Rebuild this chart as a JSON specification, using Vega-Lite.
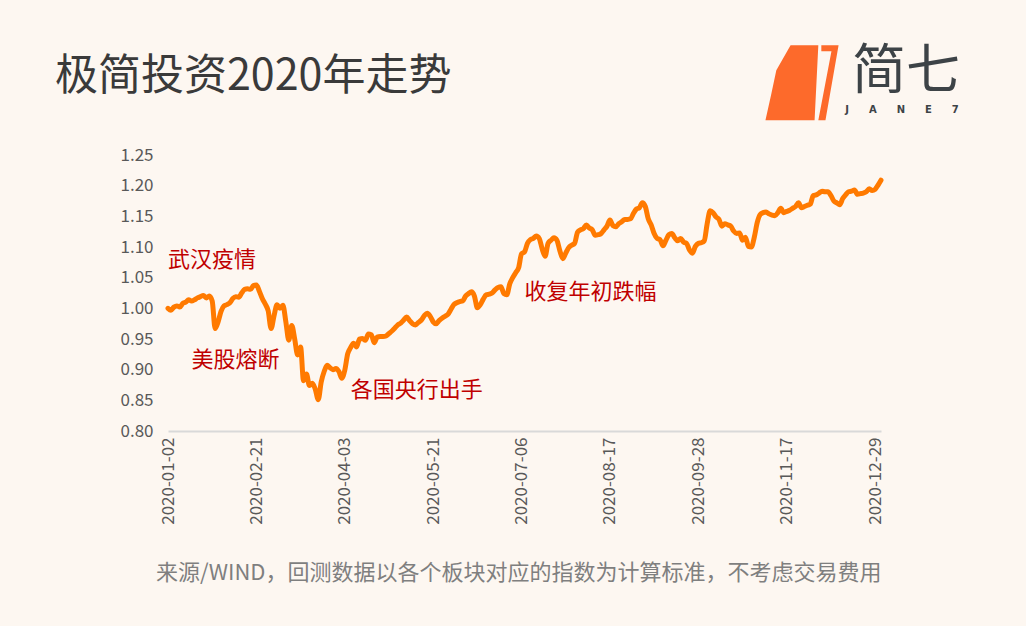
{
  "$schema": "https://vega.github.io/schema/vega-lite/v6.json",
  "width": 713,
  "height": 276,
  "autosize": {"type": "none"},
  "padding": {"left": 168, "top": 155, "right": 145, "bottom": 195},
  "background": "#fdf7f1",
  "config": {"view": {"stroke": null}, "font": "Noto Sans CJK SC"},
  "datasets": {
    "nav": [
      {"date":"2020-01-02","value":1.000},{"date":"2020-01-03","value":0.997},{"date":"2020-01-06","value":1.002},{"date":"2020-01-07","value":1.004},{"date":"2020-01-08","value":1.002},{"date":"2020-01-09","value":1.008},{"date":"2020-01-10","value":1.010},{"date":"2020-01-13","value":1.014},{"date":"2020-01-14","value":1.012},{"date":"2020-01-15","value":1.014},{"date":"2020-01-16","value":1.017},{"date":"2020-01-17","value":1.019},{"date":"2020-01-20","value":1.021},{"date":"2020-01-21","value":1.017},{"date":"2020-01-22","value":1.020},{"date":"2020-01-23","value":1.012},
      {"date":"2020-02-03","value":0.967},{"date":"2020-02-04","value":0.978},{"date":"2020-02-05","value":0.995},{"date":"2020-02-06","value":1.004},{"date":"2020-02-07","value":1.006},{"date":"2020-02-10","value":1.009},{"date":"2020-02-11","value":1.016},{"date":"2020-02-12","value":1.019},{"date":"2020-02-13","value":1.018},{"date":"2020-02-14","value":1.025},{"date":"2020-02-17","value":1.031},{"date":"2020-02-18","value":1.032},{"date":"2020-02-19","value":1.031},{"date":"2020-02-20","value":1.037},{"date":"2020-02-21","value":1.038},{"date":"2020-02-24","value":1.028},{"date":"2020-02-25","value":1.016},{"date":"2020-02-26","value":1.007},{"date":"2020-02-27","value":0.996},{"date":"2020-02-28","value":0.967},
      {"date":"2020-03-02","value":0.988},{"date":"2020-03-03","value":1.006},{"date":"2020-03-04","value":1.000},{"date":"2020-03-05","value":1.005},{"date":"2020-03-06","value":0.978},{"date":"2020-03-09","value":0.948},{"date":"2020-03-10","value":0.972},{"date":"2020-03-11","value":0.950},{"date":"2020-03-12","value":0.924},{"date":"2020-03-13","value":0.937},{"date":"2020-03-16","value":0.882},{"date":"2020-03-17","value":0.893},{"date":"2020-03-18","value":0.874},{"date":"2020-03-19","value":0.878},{"date":"2020-03-20","value":0.868},{"date":"2020-03-23","value":0.851},{"date":"2020-03-24","value":0.880},{"date":"2020-03-25","value":0.897},{"date":"2020-03-26","value":0.907},{"date":"2020-03-27","value":0.903},{"date":"2020-03-30","value":0.900},{"date":"2020-03-31","value":0.902},
      {"date":"2020-04-01","value":0.897},{"date":"2020-04-02","value":0.886},{"date":"2020-04-03","value":0.899},{"date":"2020-04-07","value":0.926},{"date":"2020-04-08","value":0.936},{"date":"2020-04-09","value":0.943},{"date":"2020-04-10","value":0.937},{"date":"2020-04-13","value":0.950},{"date":"2020-04-14","value":0.951},{"date":"2020-04-15","value":0.948},{"date":"2020-04-16","value":0.958},{"date":"2020-04-17","value":0.957},{"date":"2020-04-20","value":0.944},{"date":"2020-04-21","value":0.953},{"date":"2020-04-22","value":0.954},{"date":"2020-04-23","value":0.954},{"date":"2020-04-24","value":0.955},{"date":"2020-04-27","value":0.959},{"date":"2020-04-28","value":0.963},{"date":"2020-04-29","value":0.968},{"date":"2020-04-30","value":0.973},
      {"date":"2020-05-06","value":0.976},{"date":"2020-05-07","value":0.981},{"date":"2020-05-08","value":0.986},{"date":"2020-05-11","value":0.980},{"date":"2020-05-12","value":0.975},{"date":"2020-05-13","value":0.973},{"date":"2020-05-14","value":0.977},{"date":"2020-05-15","value":0.981},{"date":"2020-05-18","value":0.988},{"date":"2020-05-19","value":0.992},{"date":"2020-05-20","value":0.987},{"date":"2020-05-21","value":0.978},{"date":"2020-05-22","value":0.975},{"date":"2020-05-25","value":0.980},{"date":"2020-05-26","value":0.984},{"date":"2020-05-27","value":0.987},{"date":"2020-05-28","value":0.990},{"date":"2020-05-29","value":0.998},
      {"date":"2020-06-01","value":1.006},{"date":"2020-06-02","value":1.009},{"date":"2020-06-03","value":1.011},{"date":"2020-06-04","value":1.012},{"date":"2020-06-05","value":1.020},{"date":"2020-06-08","value":1.024},{"date":"2020-06-09","value":1.027},{"date":"2020-06-10","value":1.020},{"date":"2020-06-11","value":1.001},{"date":"2020-06-12","value":1.006},{"date":"2020-06-15","value":1.015},{"date":"2020-06-16","value":1.022},{"date":"2020-06-17","value":1.023},{"date":"2020-06-18","value":1.025},{"date":"2020-06-19","value":1.030},{"date":"2020-06-22","value":1.034},{"date":"2020-06-23","value":1.035},{"date":"2020-06-24","value":1.024},{"date":"2020-06-29","value":1.022},{"date":"2020-06-30","value":1.040},
      {"date":"2020-07-01","value":1.050},{"date":"2020-07-02","value":1.058},{"date":"2020-07-03","value":1.066},{"date":"2020-07-06","value":1.089},{"date":"2020-07-07","value":1.092},{"date":"2020-07-08","value":1.106},{"date":"2020-07-09","value":1.112},{"date":"2020-07-10","value":1.114},{"date":"2020-07-13","value":1.118},{"date":"2020-07-14","value":1.114},{"date":"2020-07-15","value":1.097},{"date":"2020-07-16","value":1.085},{"date":"2020-07-17","value":1.106},{"date":"2020-07-20","value":1.111},{"date":"2020-07-21","value":1.115},{"date":"2020-07-22","value":1.111},{"date":"2020-07-23","value":1.094},{"date":"2020-07-24","value":1.081},{"date":"2020-07-27","value":1.090},{"date":"2020-07-28","value":1.099},{"date":"2020-07-29","value":1.103},{"date":"2020-07-30","value":1.106},{"date":"2020-07-31","value":1.124},
      {"date":"2020-08-03","value":1.128},{"date":"2020-08-04","value":1.130},{"date":"2020-08-05","value":1.136},{"date":"2020-08-06","value":1.131},{"date":"2020-08-07","value":1.128},{"date":"2020-08-10","value":1.119},{"date":"2020-08-11","value":1.120},{"date":"2020-08-12","value":1.122},{"date":"2020-08-13","value":1.128},{"date":"2020-08-14","value":1.134},{"date":"2020-08-17","value":1.144},{"date":"2020-08-18","value":1.135},{"date":"2020-08-19","value":1.133},{"date":"2020-08-20","value":1.138},{"date":"2020-08-21","value":1.141},{"date":"2020-08-24","value":1.145},{"date":"2020-08-25","value":1.145},{"date":"2020-08-26","value":1.146},{"date":"2020-08-27","value":1.155},{"date":"2020-08-28","value":1.162},{"date":"2020-08-31","value":1.164},
      {"date":"2020-09-01","value":1.172},{"date":"2020-09-02","value":1.166},{"date":"2020-09-03","value":1.146},{"date":"2020-09-04","value":1.136},{"date":"2020-09-07","value":1.122},{"date":"2020-09-08","value":1.114},{"date":"2020-09-09","value":1.112},{"date":"2020-09-10","value":1.102},{"date":"2020-09-11","value":1.111},{"date":"2020-09-14","value":1.120},{"date":"2020-09-15","value":1.122},{"date":"2020-09-16","value":1.115},{"date":"2020-09-17","value":1.110},{"date":"2020-09-18","value":1.114},{"date":"2020-09-21","value":1.108},{"date":"2020-09-22","value":1.106},{"date":"2020-09-23","value":1.095},{"date":"2020-09-24","value":1.090},{"date":"2020-09-25","value":1.101},{"date":"2020-09-28","value":1.106},{"date":"2020-09-29","value":1.107},{"date":"2020-09-30","value":1.110},
      {"date":"2020-10-09","value":1.138},{"date":"2020-10-12","value":1.159},{"date":"2020-10-13","value":1.156},{"date":"2020-10-14","value":1.149},{"date":"2020-10-15","value":1.145},{"date":"2020-10-16","value":1.134},{"date":"2020-10-19","value":1.138},{"date":"2020-10-20","value":1.136},{"date":"2020-10-21","value":1.134},{"date":"2020-10-22","value":1.126},{"date":"2020-10-23","value":1.122},{"date":"2020-10-26","value":1.123},{"date":"2020-10-27","value":1.111},{"date":"2020-10-28","value":1.116},{"date":"2020-10-29","value":1.101},{"date":"2020-10-30","value":1.100},
      {"date":"2020-11-02","value":1.116},{"date":"2020-11-03","value":1.140},{"date":"2020-11-04","value":1.153},{"date":"2020-11-05","value":1.156},{"date":"2020-11-06","value":1.157},{"date":"2020-11-09","value":1.154},{"date":"2020-11-10","value":1.152},{"date":"2020-11-11","value":1.151},{"date":"2020-11-12","value":1.156},{"date":"2020-11-13","value":1.163},{"date":"2020-11-16","value":1.156},{"date":"2020-11-17","value":1.158},{"date":"2020-11-18","value":1.160},{"date":"2020-11-19","value":1.163},{"date":"2020-11-20","value":1.166},{"date":"2020-11-23","value":1.172},{"date":"2020-11-24","value":1.164},{"date":"2020-11-25","value":1.166},{"date":"2020-11-26","value":1.168},{"date":"2020-11-27","value":1.170},{"date":"2020-11-30","value":1.184},
      {"date":"2020-12-01","value":1.185},{"date":"2020-12-02","value":1.188},{"date":"2020-12-03","value":1.191},{"date":"2020-12-04","value":1.190},{"date":"2020-12-07","value":1.190},{"date":"2020-12-08","value":1.184},{"date":"2020-12-09","value":1.175},{"date":"2020-12-10","value":1.172},{"date":"2020-12-11","value":1.169},{"date":"2020-12-14","value":1.179},{"date":"2020-12-15","value":1.185},{"date":"2020-12-16","value":1.190},{"date":"2020-12-17","value":1.191},{"date":"2020-12-18","value":1.193},{"date":"2020-12-21","value":1.186},{"date":"2020-12-22","value":1.187},{"date":"2020-12-23","value":1.188},{"date":"2020-12-24","value":1.190},{"date":"2020-12-25","value":1.195},{"date":"2020-12-28","value":1.192},{"date":"2020-12-29","value":1.194},{"date":"2020-12-30","value":1.201},{"date":"2020-12-31","value":1.209}
    ],
    "notes": [
      {"date":"2020-01-02","value":1.079,"label":"武汉疫情"},
      {"date":"2020-01-14","value":0.916,"label":"美股熔断"},
      {"date":"2020-04-08","value":0.867,"label":"各国央行出手"},
      {"date":"2020-07-07","value":1.027,"label":"收复年初跌幅"}
    ]
  },
  "encoding": {
    "x": {
      "field": "date", "type": "ordinal",
      "scale": {"type": "point", "padding": 0},
      "axis": {
        "values": ["2020-01-02","2020-02-21","2020-04-03","2020-05-21","2020-07-06","2020-08-17","2020-09-28","2020-11-17","2020-12-29"],
        "labelAngle": -90, "ticks": false, "grid": false, "labelOverlap": false,
        "domainColor": "#d9d9d9", "domainWidth": 2,
        "labelColor": "#595959", "labelFontSize": 17, "labelPadding": 6, "labelFont": "Noto Sans CJK SC",
        "title": "来源/WIND，回测数据以各个板块对应的指数为计算标准，不考虑交易费用",
        "titleAnchor": "end", "titleFontSize": 22, "titleFontWeight": "normal", "titleColor": "#7f7f7f", "titleFont": "Noto Sans CJK SC", "titlePadding": 38
      }
    },
    "y": {
      "field": "value", "type": "quantitative",
      "scale": {"domain": [0.8, 1.25], "zero": false, "nice": false},
      "axis": {
        "values": [0.8,0.85,0.9,0.95,1.0,1.05,1.1,1.15,1.2,1.25], "tickCount": 10, "format": ".2f",
        "domain": false, "ticks": false, "grid": false, "labelOverlap": false,
        "labelColor": "#595959", "labelFontSize": 17, "labelPadding": 15, "labelFont": "Noto Sans CJK SC",
        "title": null
      }
    }
  },
  "layer": [
    {
      "data": {"name": "nav"},
      "mark": {"type": "line", "color": "#ff7a00", "strokeWidth": 5, "interpolate": "monotone", "strokeCap": "round", "strokeJoin": "round"}
    },
    {
      "data": {"name": "notes"},
      "mark": {"type": "text", "align": "left", "baseline": "middle", "fontSize": 22, "color": "#c00000", "font": "Noto Sans CJK SC"},
      "encoding": {"text": {"field": "label"}}
    },
    {
      "data": {"values": [{"date":"2020-01-02","value":1.377,"label":"极简投资2020年走势"}]},
      "mark": {"type": "text", "align": "left", "baseline": "middle", "fontSize": 43, "color": "#3a3a3a", "font": "Noto Sans CJK SC", "dx": -113},
      "encoding": {"text": {"field": "label"}}
    },
    {
      "data": {"values": [{"date":"2020-11-24","value":1.368}]},
      "mark": {"type": "point", "filled": true, "color": "#fd6a2b", "opacity": 1, "strokeWidth": 0, "size": 5625,
        "shape": "M -0.29 -1 L 0.45 -1 L 0.35 1 L -0.96 1 Q -0.8 0.3 -0.67 -0.33 Z M 0.53 -1 L 0.99 -1 L 0.64 1 L 0.45 1 L 0.8 -0.84 L 0.53 -0.84 Z"}
    },
    {
      "data": {"values": [{"date":"2020-12-31","value":1.384,"label":"简七"}]},
      "mark": {"type": "text", "align": "center", "baseline": "middle", "fontSize": 54, "color": "#3d4347", "font": "Noto Sans CJK SC", "dx": 25},
      "encoding": {"text": {"field": "label"}}
    },
    {
      "data": {"values": [{"date":"2020-12-31","value":1.323,"label":"J\u2003\u2003A\u2003\u2003N\u2003\u2003E\u2003\u20037"}]},
      "mark": {"type": "text", "align": "center", "baseline": "middle", "fontSize": 10, "fontWeight": "bold", "color": "#3d4347", "font": "DejaVu Sans", "dx": 21},
      "encoding": {"text": {"field": "label"}}
    }
  ]
}
